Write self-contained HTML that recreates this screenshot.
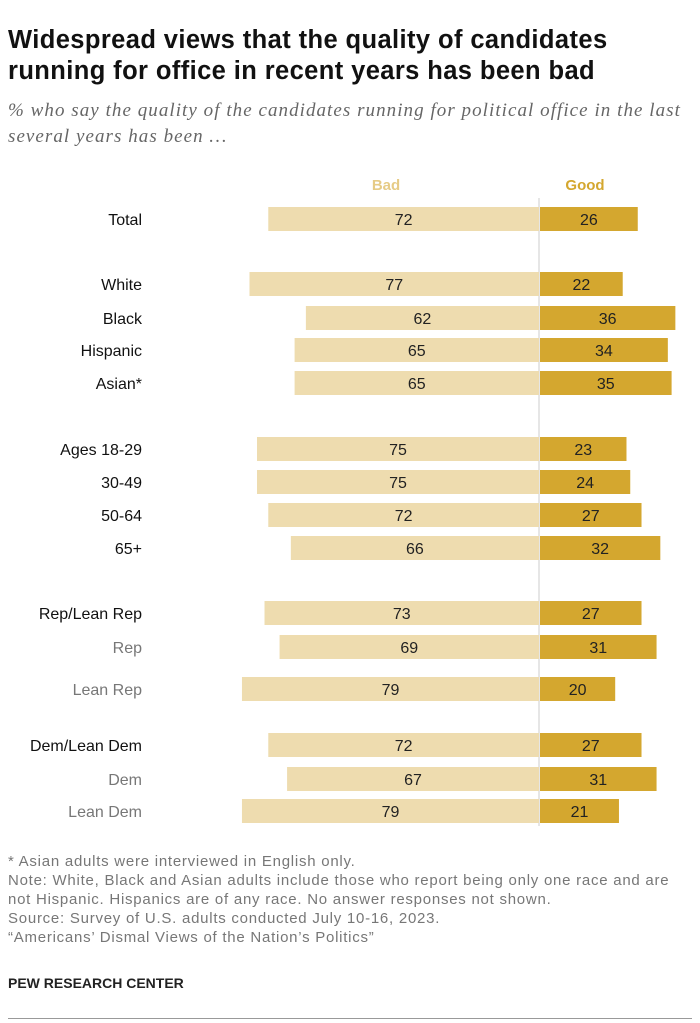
<!DOCTYPE html>
<html><head><meta charset="utf-8"><style>
body{margin:0;background:#fff;width:700px;height:1023px;overflow:hidden;font-family:"Liberation Sans",sans-serif}
.t{position:absolute;left:8px;top:25px;font-size:25.5px;letter-spacing:0.4px;font-weight:bold;line-height:31px;color:#111;width:690px;white-space:nowrap}
.s{position:absolute;left:8px;top:98px;font-size:19px;letter-spacing:1.05px;font-style:italic;color:#666;line-height:26px;width:695px;font-family:"Liberation Serif",serif;white-space:nowrap}
.n{position:absolute;left:8px;top:852px;font-size:15px;letter-spacing:0.75px;color:#777;line-height:19px;width:695px;white-space:nowrap}
.p{position:absolute;left:8px;top:975px;font-size:14px;font-weight:bold;color:#222}
.hr{position:absolute;left:8px;right:8px;top:1018px;border-top:1px solid #999}
</style></head><body>
<div class="t">Widespread views that the quality of candidates<br>running for office in recent years has been bad</div>
<div class="s">% who say the quality of the candidates running for political office in the last<br>several years has been …</div>
<svg id="c" width="700" height="1023" style="position:absolute;left:0;top:0"></svg>
<div class="n">* Asian adults were interviewed in English only.<br>Note: White, Black and Asian adults include those who report being only one race and are<br>not Hispanic. Hispanics are of any race. No answer responses not shown.<br>Source: Survey of U.S. adults conducted July 10-16, 2023.<br>“Americans’ Dismal Views of the Nation’s Politics”</div>
<div class="p">PEW RESEARCH CENTER</div>
<div class="hr"></div>
<script>
const categories=["Total","White","Black","Hispanic","Asian*","Ages 18-29","30-49","50-64","65+","Rep/Lean Rep","Rep","Lean Rep","Dem/Lean Dem","Dem","Lean Dem"];
const badValues=[72,77,62,65,65,75,75,72,66,73,69,79,72,67,79];
const goodValues=[26,22,36,34,35,23,24,27,32,27,31,20,27,31,21];
const rowY=[219,284,318,350,383,449,482,515,548,613,647,689,745,779,811];
const greyRows=["Rep","Lean Rep","Dem","Lean Dem"];
const NS="http://www.w3.org/2000/svg",svg=document.getElementById('c');
const cx=539,k=3.76,x=v=>v*k;
function el(t,a,txt){const e=document.createElementNS(NS,t);for(const q in a)e.setAttribute(q,a[q]);if(txt!=null)e.textContent=txt;svg.appendChild(e);return e;}
let h=el('text',{x:386,y:190,'text-anchor':'middle','font-size':15,'font-weight':'bold',fill:'#e6cb86'},'Bad');

h=el('text',{x:585,y:190,'text-anchor':'middle','font-size':15,'font-weight':'bold',fill:'#d4a72f'},'Good');

const ax=el('line',{x1:cx,x2:cx,y1:198,y2:826,stroke:'#ccc','stroke-width':1});

categories.forEach((c,i)=>{const y=rowY[i];
 const l=el('text',{x:142,y:y+6,'text-anchor':'end','font-size':16,fill:greyRows.includes(c)?'#777':'#111'},c);
 
 const b=el('rect',{x:cx-x(badValues[i]),y:y-12,width:x(badValues[i]),height:24,fill:'#eedcaf'});
 
 const g=el('rect',{x:cx+1,y:y-12,width:x(goodValues[i]),height:24,fill:'#d4a72f'});
 
 const bv=el('text',{x:cx-x(badValues[i])/2,y:y+6,'text-anchor':'middle','font-size':16,fill:'#222'},badValues[i]);
 
 const gv=el('text',{x:cx+1+x(goodValues[i])/2,y:y+6,'text-anchor':'middle','font-size':16,fill:'#222'},goodValues[i]);
 
});
</script>
</body></html>
